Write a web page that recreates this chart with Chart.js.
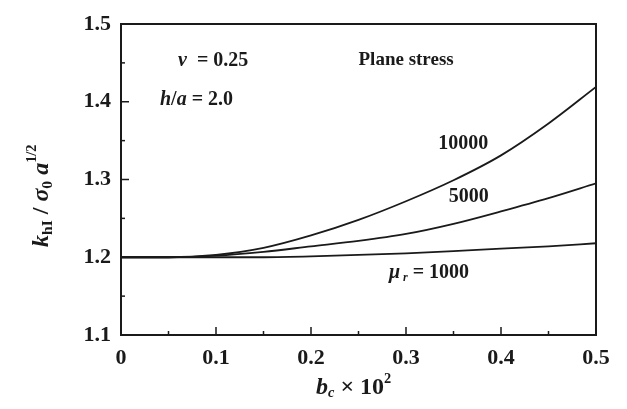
<!DOCTYPE html>
<html>
<head>
<meta charset="utf-8">
<script src="https://cdn.jsdelivr.net/npm/chart.js@4.4.0/dist/chart.umd.min.js"></script>
<style>
  html, body { margin: 0; padding: 0; background: #fff; }
  #wrap { width: 627px; height: 409px; }
</style>
</head>
<body>
<div id="wrap"><canvas id="graf"></canvas></div>
<script>
// b_c x 10^2 values
const vetX = [0, 0.05, 0.1, 0.15, 0.2, 0.25, 0.3, 0.35, 0.4, 0.45, 0.5]
// k_hI / sigma_0 a^1/2 for each mu_r
const mu10000 = [1.200, 1.200, 1.203, 1.212, 1.228, 1.248, 1.272, 1.299, 1.331, 1.372, 1.419]
const mu5000  = [1.200, 1.200, 1.202, 1.207, 1.214, 1.221, 1.230, 1.243, 1.259, 1.276, 1.295]
const mu1000  = [1.200, 1.200, 1.200, 1.200, 1.201, 1.203, 1.205, 1.208, 1.211, 1.214, 1.218]
const xTicks = [0, 0.1, 0.2, 0.3, 0.4, 0.5]
const yTicks = [1.1, 1.2, 1.3, 1.4, 1.5]

const SERIF = '"Liberation Serif", "DejaVu Serif", serif'
const ink = '#1a1a1a'

function pares(vals) {
    return vetX.map((x, i) => ({ x: x, y: vals[i] }))
}

function serie(label, vals) {
    return {
        label: label,
        data: pares(vals),
        borderColor: ink,
        borderWidth: 1.8,
        pointRadius: 0,
        cubicInterpolationMode: 'monotone',
        fill: false
    }
}

// text runs: [text, style, sizeFactor, dy]
function escreve(ctx, x, y, runs, size) {
    let cx = x
    runs.forEach(r => {
        const s = size * (r[2] || 1)
        ctx.font = (r[1] || 'bold') + ' ' + s + 'px ' + SERIF
        ctx.fillText(r[0], cx, y + (r[3] || 0))
        cx += ctx.measureText(r[0]).width
    })
    return cx - x
}

const extras = {
    id: 'extras',
    afterDraw(chart) {
        const ctx = chart.ctx
        const a = chart.chartArea
        const sx = chart.scales.x
        const sy = chart.scales.y
        ctx.save()
        ctx.strokeStyle = ink
        ctx.lineWidth = 2
        ctx.strokeRect(a.left, a.top, a.right - a.left, a.bottom - a.top)

        // inward ticks
        ctx.lineWidth = 1.5
        for (let v = 0.05; v < 0.5; v += 0.05) {
            const px = sx.getPixelForValue(v)
            const major = Math.round(v * 100) % 10 === 0
            ctx.beginPath()
            ctx.moveTo(px, a.bottom)
            ctx.lineTo(px, a.bottom - (major ? 8 : 4))
            ctx.stroke()
        }
        for (let v = 1.15; v < 1.5; v += 0.05) {
            const py = sy.getPixelForValue(v)
            const major = Math.round(v * 100) % 10 === 0
            ctx.beginPath()
            ctx.moveTo(a.left, py)
            ctx.lineTo(a.left + (major ? 8 : 4), py)
            ctx.stroke()
        }

        ctx.fillStyle = ink
        ctx.textBaseline = 'middle'
        ctx.textAlign = 'left'
        const at = (x, y) => [sx.getPixelForValue(x), sy.getPixelForValue(y)]

        let p = at(0.06, 1.452)
        escreve(ctx, p[0], p[1], [['ν', 'italic bold'], ['  = 0.25', 'bold']], 20)
        p = at(0.041, 1.402)
        escreve(ctx, p[0], p[1], [['h', 'italic bold'], ['/', 'bold'], ['a', 'italic bold'], [' = 2.0', 'bold']], 20)
        p = at(0.25, 1.454)
        escreve(ctx, p[0], p[1], [['Plane stress', 'bold']], 19)
        p = at(0.334, 1.346)
        escreve(ctx, p[0], p[1], [['10000', 'bold']], 20)
        p = at(0.345, 1.278)
        escreve(ctx, p[0], p[1], [['5000', 'bold']], 20)
        p = at(0.282, 1.18)
        escreve(ctx, p[0], p[1], [['μ', 'italic bold'], [' r', 'italic bold', 0.6, 5], [' = 1000', 'bold']], 20)

        // x axis title
        escreve(ctx, 316, 388, [['b', 'italic bold'], ['c', 'italic bold', 0.6, 5], [' × 10', 'bold'], ['2', 'bold', 0.6, -9]], 24)

        // y axis title
        ctx.translate(42, 247)
        ctx.rotate(-Math.PI / 2)
        escreve(ctx, 0, 0, [['k', 'italic bold'], ['hI', 'bold', 0.65, 6], [' / ', 'bold'], ['σ', 'italic bold'], ['0', 'bold', 0.65, 6], [' a', 'italic bold'], ['1/2', 'bold', 0.6, -10]], 24)
        ctx.restore()
    }
}

new Chart(document.getElementById('graf'), {
    type: 'line',
    data: {
        datasets: [
            serie('10000', mu10000),
            serie('5000', mu5000),
            serie('1000', mu1000)
        ]
    },
    options: {
        responsive: true,
        maintainAspectRatio: false,
        animation: false,
        layout: { autoPadding: false, padding: { top: 24, right: 31, left: 0, bottom: 0 } },
        plugins: {
            legend: { display: false },
            tooltip: { enabled: false }
        },
        scales: {
            x: {
                type: 'linear',
                min: 0,
                max: 0.5,
                afterBuildTicks: s => { s.ticks = xTicks.map(v => ({ value: v })) },
                afterFit: s => { s.height = 74 },
                grid: { display: false, drawTicks: false },
                border: { display: false },
                ticks: {
                    color: ink,
                    padding: 10,
                    maxRotation: 0,
                    font: { family: SERIF, size: 22, weight: 'bold' },
                    callback: v => v === 0 ? '0' : v.toFixed(1)
                }
            },
            y: {
                min: 1.1,
                max: 1.5,
                afterBuildTicks: s => { s.ticks = yTicks.map(v => ({ value: v })) },
                afterFit: s => { s.width = 121 },
                grid: { display: false, drawTicks: false },
                border: { display: false },
                ticks: {
                    color: ink,
                    padding: 10,
                    font: { family: SERIF, size: 22, weight: 'bold' },
                    callback: v => v.toFixed(1)
                }
            }
        }
    },
    plugins: [extras]
})
</script>
</body>
</html>
